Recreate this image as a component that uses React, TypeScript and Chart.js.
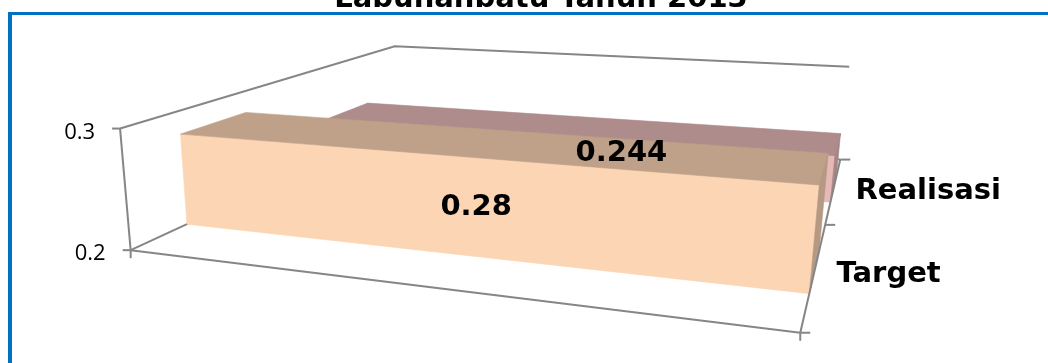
import { useEffect, useRef } from 'react';
import { Chart, registerables } from 'chart.js';

Chart.register(...registerables);

// ---- data ----
const TITLE = 'Labuhanbatu Tahun 2013';
const CATEGORIES = [''];
const SERIES_NAMES = ['Target', 'Realisasi'];
const TARGET_VALUES = [0.28];
const REALISASI_VALUES = [0.244];
const VALUE_TICKS = [0.2, 0.3];

// ---- style ----
const FRONT_COLORS = ['#FCD5B4', '#E6B9B8'];
const TOP_SHADE = 0.755;
const SIDE_SHADE = 0.72;
const GAP_DEPTH = 1.5; // space between series along the depth axis, relative to bar depth
const VALUE_LABEL_SHIFT = [
  { dx: 9, dy: 1 },
  { dx: 62, dy: -4 },
];
const AXIS_COLOR = '#868686';
const BORDER_COLOR = '#0070C0';
const W = 1048;
const H = 363;

// Screen placement of the unit plot box: world [X (category), Y (value), Z (depth)] -> canvas px
const BOX_ANCHORS = [
  { w: [0, 0, 0], s: [130.5, 248.5] },
  { w: [0, 1, 0], s: [120, 130] },
  { w: [0, 1, 1], s: [395, 45] },
  { w: [1, 1, 1], s: [849, 67] },
  { w: [1, 0, 0], s: [800, 333] },
  { w: [1, 0, 1], s: [840, 159] },
  { w: [1, 0, 0.5], s: [826, 225] },
  { w: [0, 0, 1], s: [396, 129] },
];

type Pt = { x: number; y: number };

// Least-squares pinhole camera (3x4, last entry fixed to 1) through the box anchors.
function solveCamera(anchors: { w: number[]; s: number[] }[]): number[] {
  const n = 11;
  const k = 1000;
  const M: number[][] = Array.from({ length: n }, () => new Array(n + 1).fill(0));
  const add = (row: number[], b: number) => {
    for (let i = 0; i < n; i++) {
      for (let j = 0; j < n; j++) M[i][j] += row[i] * row[j];
      M[i][n] += row[i] * b;
    }
  };
  for (const a of anchors) {
    const [X, Y, Z] = a.w;
    const u = a.s[0] / k;
    const v = a.s[1] / k;
    add([X, Y, Z, 1, 0, 0, 0, 0, -u * X, -u * Y, -u * Z], u);
    add([0, 0, 0, 0, X, Y, Z, 1, -v * X, -v * Y, -v * Z], v);
  }
  for (let c = 0; c < n; c++) {
    let p = c;
    for (let r = c + 1; r < n; r++) if (Math.abs(M[r][c]) > Math.abs(M[p][c])) p = r;
    [M[c], M[p]] = [M[p], M[c]];
    for (let r = 0; r < n; r++) {
      if (r === c) continue;
      const f = M[r][c] / M[c][c];
      for (let q = c; q <= n; q++) M[r][q] -= f * M[c][q];
    }
  }
  return M.map((row, i) => row[n] / row[i]);
}

function makeProjector(p: number[]) {
  return (X: number, Y: number, Z: number): Pt => {
    const w = p[8] * X + p[9] * Y + p[10] * Z + 1;
    return {
      x: ((p[0] * X + p[1] * Y + p[2] * Z + p[3]) / w) * 1000,
      y: ((p[4] * X + p[5] * Y + p[6] * Z + p[7]) / w) * 1000,
    };
  };
}

function shade(hex: string, f: number): string {
  const n = parseInt(hex.slice(1), 16);
  const r = Math.round(((n >> 16) & 255) * f);
  const g = Math.round(((n >> 8) & 255) * f);
  const b = Math.round((n & 255) * f);
  return `rgb(${r},${g},${b})`;
}

function poly(ctx: CanvasRenderingContext2D, pts: Pt[], fill: string) {
  ctx.beginPath();
  ctx.moveTo(pts[0].x, pts[0].y);
  for (let i = 1; i < pts.length; i++) ctx.lineTo(pts[i].x, pts[i].y);
  ctx.closePath();
  ctx.fillStyle = fill;
  ctx.fill();
  ctx.strokeStyle = fill;
  ctx.lineWidth = 0.6;
  ctx.stroke();
}

function line(ctx: CanvasRenderingContext2D, pts: Pt[]) {
  ctx.beginPath();
  ctx.moveTo(pts[0].x, pts[0].y);
  for (let i = 1; i < pts.length; i++) ctx.lineTo(pts[i].x, pts[i].y);
  ctx.stroke();
}

const bar3d = {
  id: 'bar3d',
  beforeDatasetsDraw() {
    return false;
  },
  afterDraw(chart: any) {
    const ctx: CanvasRenderingContext2D = chart.ctx;
    const ys = chart.scales.y;
    const xs = chart.scales.x;
    const norm = (val: number) => (ys.bottom - ys.getPixelForValue(val)) / (ys.bottom - ys.top);
    const pr = makeProjector(solveCamera(BOX_ANCHORS));
    const catCount = chart.data.labels.length;
    const band = (xs.right - xs.left) / catCount;
    const catSpan = (j: number) => {
      const c = xs.getPixelForValue(j);
      return [(c - band / 2 - xs.left) / (xs.right - xs.left), (c + band / 2 - xs.left) / (xs.right - xs.left)];
    };

    ctx.save();

    // title
    ctx.fillStyle = '#000';
    ctx.font = 'bold 29px "DejaVu Sans"';
    ctx.textAlign = 'center';
    ctx.textBaseline = 'alphabetic';
    ctx.fillText(chart.options.plugins.title.text, 541, 7);

    // chart frame
    ctx.fillStyle = BORDER_COLOR;
    ctx.fillRect(8, 12, W - 8, 3);
    ctx.fillRect(8, 12, 4, H - 12);

    // wall gridlines
    ctx.strokeStyle = AXIS_COLOR;
    ctx.lineWidth = 2;
    ctx.lineJoin = 'miter';
    for (const t of VALUE_TICKS) {
      const v = norm(t);
      line(ctx, [pr(0, v, 0), pr(0, v, 1), pr(1, v, 1)]);
    }

    // 3D columns, back series first
    const sets = chart.data.datasets;
    const slot = 1 / sets.length;
    const depth = slot / (1 + GAP_DEPTH);
    const labelJobs: { text: string; p: Pt }[] = [];
    for (let i = sets.length - 1; i >= 0; i--) {
      const ds = sets[i];
      const z0 = i * slot + (slot - depth) / 2;
      const z1 = z0 + depth;
      const base = ds.backgroundColor as string;
      ds.data.forEach((val: number, j: number) => {
        const [x0, x1] = catSpan(j);
        const v = norm(val);
        poly(ctx, [pr(x0, 0, z0), pr(x1, 0, z0), pr(x1, v, z0), pr(x0, v, z0)], base);
        poly(ctx, [pr(x0, v, z0), pr(x1, v, z0), pr(x1, v, z1), pr(x0, v, z1)], shade(base, TOP_SHADE));
        poly(ctx, [pr(x1, 0, z0), pr(x1, 0, z1), pr(x1, v, z1), pr(x1, v, z0)], shade(base, SIDE_SHADE));
        const c = pr((x0 + x1) / 2, v / 2, z0);
        const s = VALUE_LABEL_SHIFT[i];
        labelJobs.push({ text: String(val), p: { x: c.x + s.dx, y: c.y + s.dy } });
      });
    }

    // axes
    ctx.strokeStyle = AXIS_COLOR;
    ctx.lineWidth = 2;
    const v0 = norm(VALUE_TICKS[0]);
    line(ctx, [pr(0, v0, 0), pr(0, norm(VALUE_TICKS[VALUE_TICKS.length - 1]), 0)]);
    for (const t of VALUE_TICKS) {
      const p = pr(0, norm(t), 0);
      line(ctx, [{ x: p.x - 8, y: p.y }, p]);
    }
    line(ctx, [pr(0, v0, 0), pr(1, v0, 0)]);
    for (let j = 0; j <= catCount; j++) {
      const p = pr(j / catCount, v0, 0);
      line(ctx, [p, { x: p.x, y: p.y + 8 }]);
    }
    line(ctx, [pr(1, v0, 0), pr(1, v0, 1)]);
    for (let k = 0; k <= sets.length; k++) {
      const p = pr(1, v0, k * slot);
      line(ctx, [p, { x: p.x + 10, y: p.y }]);
    }

    // value tick labels
    ctx.fillStyle = '#000';
    ctx.font = '22px "Open Sans"';
    ctx.textAlign = 'right';
    ctx.textBaseline = 'middle';
    for (const t of VALUE_TICKS) {
      const p = pr(0, norm(t), 0);
      ctx.fillText(String(t), p.x - 25, p.y + 4);
    }

    // series names along the depth axis
    ctx.font = 'bold 29px "DejaVu Sans"';
    ctx.textAlign = 'left';
    sets.forEach((ds: any, i: number) => {
      const p = pr(1, v0, (i + 0.5) * slot);
      ctx.fillText(ds.label, p.x + 22, p.y + 3);
    });

    // value labels
    ctx.textAlign = 'center';
    for (const job of labelJobs) ctx.fillText(job.text, job.p.x, job.p.y);

    ctx.restore();
  },
};

export default function App() {
  const ref = useRef<HTMLCanvasElement>(null);
  useEffect(() => {
    if (!ref.current) return;
    const chart = new Chart(ref.current, {
      type: 'bar',
      data: {
        labels: CATEGORIES,
        datasets: [
          { label: SERIES_NAMES[0], data: TARGET_VALUES, backgroundColor: FRONT_COLORS[0] },
          { label: SERIES_NAMES[1], data: REALISASI_VALUES, backgroundColor: FRONT_COLORS[1] },
        ],
      },
      options: {
        responsive: false,
        animation: false,
        layout: { padding: 0 },
        plugins: {
          legend: { display: false },
          tooltip: { enabled: false },
          title: { display: false, text: TITLE },
        },
        scales: {
          x: { display: false },
          y: {
            display: false,
            min: VALUE_TICKS[0],
            max: VALUE_TICKS[VALUE_TICKS.length - 1],
            ticks: { stepSize: 0.1 },
          },
        },
      },
      plugins: [bar3d],
    });
    return () => chart.destroy();
  }, []);
  return (
    <div style={{ position: 'fixed', left: 0, top: 0, width: W, height: H, overflow: 'hidden', background: '#fff' }}>
      <canvas ref={ref} width={W} height={H} style={{ display: 'block' }} />
    </div>
  );
}
